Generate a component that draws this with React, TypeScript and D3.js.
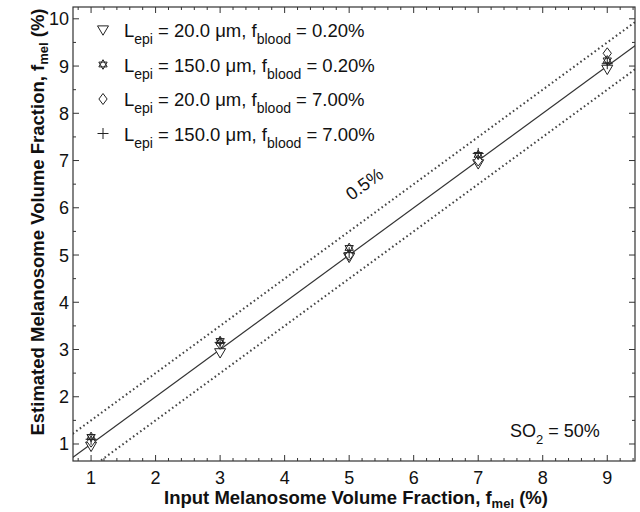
import React from "react";
import * as d3 from "d3";

const inputFractions = [1, 3, 5, 7, 9];
const seriesTriangle = [0.95, 2.93, 4.95, 6.93, 8.93];
const seriesStar = [1.15, 3.18, 5.15, 7.12, 9.12];
const seriesDiamond = [1.05, 3.12, 5.0, 7.0, 9.27];
const seriesPlus = [1.1, 3.15, 5.05, 7.15, 9.05];
const xTicks = [1, 2, 3, 4, 5, 6, 7, 8, 9];
const yTicks = [1, 2, 3, 4, 5, 6, 7, 8, 9, 10];
const bandOffset = 0.5;
const legendRows = [
  { l: "20.0", f: "0.20", m: "tri" },
  { l: "150.0", f: "0.20", m: "star" },
  { l: "20.0", f: "7.00", m: "dia" },
  { l: "150.0", f: "7.00", m: "plus" },
];

const W = 640, H = 512;
const L = 73, R = 635, T = 7, B = 461;
const FONT = "Liberation Sans, Arial, Helvetica, sans-serif";
const INK = "#222";

function Marker({ type, cx, cy }: { type: string; cx: number; cy: number }) {
  const s = 5.5;
  if (type === "tri") {
    const p = `M${cx - s},${cy - s * 0.75}L${cx + s},${cy - s * 0.75}L${cx},${cy + s * 0.95}Z`;
    return <path d={p} fill="white" stroke={INK} strokeWidth={1} />;
  }
  if (type === "dia") {
    const p = `M${cx},${cy - s}L${cx + s * 0.75},${cy}L${cx},${cy + s}L${cx - s * 0.75},${cy}Z`;
    return <path d={p} fill="white" stroke={INK} strokeWidth={1} />;
  }
  if (type === "star") {
    const r = 4.8;
    const t1 = [0, 1, 2].map((i) => {
      const a = -Math.PI / 2 + (i * 2 * Math.PI) / 3;
      return [cx + r * Math.cos(a), cy + r * Math.sin(a)];
    });
    const t2 = [0, 1, 2].map((i) => {
      const a = Math.PI / 2 + (i * 2 * Math.PI) / 3;
      return [cx + r * Math.cos(a), cy + r * Math.sin(a)];
    });
    const p = (pts: number[][]) => "M" + pts.map((q) => q.join(",")).join("L") + "Z";
    return (
      <g fill="none" stroke={INK} strokeWidth={1}>
        <path d={p(t1)} />
        <path d={p(t2)} />
      </g>
    );
  }
  return (
    <g stroke={INK} strokeWidth={1}>
      <line x1={cx - s} x2={cx + s} y1={cy} y2={cy} />
      <line x1={cx} x2={cx} y1={cy - s} y2={cy + s} />
    </g>
  );
}

export default function App() {
  const x = d3.scaleLinear().domain([0.72, 9.43]).range([L, R]);
  const y = d3.scaleLinear().domain([0.64, 10.25]).range([B, T]);
  const xMinor = d3.range(0.8, 9.43, 0.2).filter((v) => Math.abs(v - Math.round(v)) > 0.01);
  const yMinor = d3.range(1.5, 10.25, 1);
  const lineGen = d3.line<number>().x((v) => x(v)).y((v) => y(v));
  const dom = [0, 11];
  const solid = lineGen(dom) || "";
  const upper = d3.line<number>().x((v) => x(v)).y((v) => y(v + bandOffset))(dom) || "";
  const lower = d3.line<number>().x((v) => x(v)).y((v) => y(v - bandOffset))(dom) || "";
  const series = [
    { vals: seriesTriangle, m: "tri" },
    { vals: seriesDiamond, m: "dia" },
    { vals: seriesStar, m: "star" },
    { vals: seriesPlus, m: "plus" },
  ];
  const angle = (Math.atan2(y(1) - y(2), x(2) - x(1)) * 180) / Math.PI;
  return (
    <svg width={W} height={H} style={{ position: "absolute", left: 0, top: 0, background: "white" }} fontFamily={FONT}>
      <rect x={0} y={0} width={W} height={H} fill="white" />
      <defs>
        <clipPath id="plot">
          <rect x={L} y={T} width={R - L} height={B - T} />
        </clipPath>
      </defs>
      <g clipPath="url(#plot)">
        <path d={solid} stroke="#333" strokeWidth={1.2} fill="none" />
        <path d={upper} stroke="#444" strokeWidth={2} strokeDasharray="1.6 2.8" fill="none" />
        <path d={lower} stroke="#444" strokeWidth={2} strokeDasharray="1.6 2.8" fill="none" />
      </g>
      {series.map((s) =>
        s.vals.map((v, i) => (
          <Marker key={s.m + i} type={s.m} cx={x(inputFractions[i])} cy={y(v)} />
        ))
      )}
      <rect x={L} y={T} width={R - L} height={B - T} fill="none" stroke="#333" strokeWidth={1.2} />
      <g stroke="#333" strokeWidth={1}>
        {xTicks.map((t) => (
          <g key={"xt" + t}>
            <line x1={x(t)} x2={x(t)} y1={B} y2={B - 6} />
            <line x1={x(t)} x2={x(t)} y1={T} y2={T + 6} />
          </g>
        ))}
        {xMinor.map((t, i) => (
          <g key={"xm" + i}>
            <line x1={x(t)} x2={x(t)} y1={B} y2={B - 3} />
            <line x1={x(t)} x2={x(t)} y1={T} y2={T + 3} />
          </g>
        ))}
        {yTicks.map((t) => (
          <g key={"yt" + t}>
            <line x1={L} x2={L + 6} y1={y(t)} y2={y(t)} />
            <line x1={R} x2={R - 6} y1={y(t)} y2={y(t)} />
          </g>
        ))}
        {yMinor.map((t, i) => (
          <g key={"ym" + i}>
            <line x1={L} x2={L + 3} y1={y(t)} y2={y(t)} />
            <line x1={R} x2={R - 3} y1={y(t)} y2={y(t)} />
          </g>
        ))}
      </g>
      <g fontSize={18} fill="#111">
        {xTicks.map((t) => (
          <text key={"xl" + t} x={x(t)} y={484} textAnchor="middle">{t}</text>
        ))}
        {yTicks.map((t) => (
          <text key={"yl" + t} x={L - 4} y={y(t) + 6.5} textAnchor="end">{t}</text>
        ))}
      </g>
      <text x={356} y={504} textAnchor="middle" fontSize={18.5} fontWeight="bold" fill="#111">
        Input Melanosome Volume Fraction, f<tspan fontSize={13} dy={4}>mel</tspan><tspan dy={-4}> (%)</tspan>
      </text>
      <text transform={`translate(44,222) rotate(-90)`} textAnchor="middle" fontSize={18.5} fontWeight="bold" fill="#111">
        Estimated Melanosome Volume Fraction, f<tspan fontSize={13} dy={4}>mel</tspan><tspan dy={-4}> (%)</tspan>
      </text>
      <text transform={`translate(368,189) rotate(${-angle})`} textAnchor="middle" fontSize={18} fill="#111">0.5%</text>
      <text x={510} y={437} fontSize={18} fill="#111">
        SO<tspan fontSize={13} dy={7}>2</tspan><tspan dy={-7}> = 50%</tspan>
      </text>
      {legendRows.map((r, i) => {
        const cy = 30 + i * 34.5;
        return (
          <g key={"lg" + i}>
            <Marker type={r.m} cx={103} cy={cy} />
            <text x={124} y={cy + 7} fontSize={18.5} fill="#111">
              L<tspan fontSize={14} dy={7}>epi</tspan>
              <tspan dy={-7}>{` = ${r.l} \u03bcm, f`}</tspan>
              <tspan fontSize={14} dy={7}>blood</tspan>
              <tspan dy={-7}>{` = ${r.f}%`}</tspan>
            </text>
          </g>
        );
      })}
    </svg>
  );
}
